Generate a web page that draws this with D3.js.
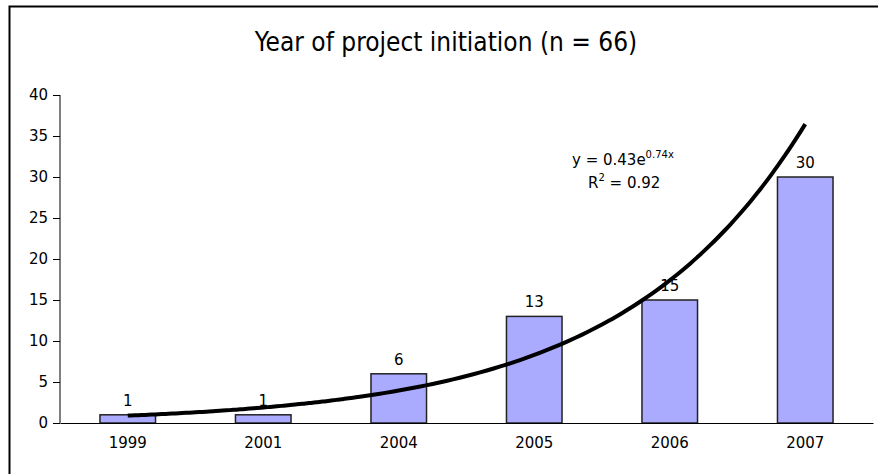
<!DOCTYPE html>
<html>
<head>
<meta charset="UTF-8">
<title>Year of project initiation</title>
<script src="https://cdn.jsdelivr.net/npm/d3@7"></script>
<style>
  body { margin: 0; background: #fff; }
  .axis text { font-family: "DejaVu Sans", Verdana, sans-serif; font-size: 15px; fill: #000; }
  .axis path, .axis line { stroke: #000; }
  .lbl { font-family: "DejaVu Sans", Verdana, sans-serif; font-size: 15px; fill: #000; }
  .title { font-family: "Liberation Sans Narrow", "DejaVu Sans Condensed", sans-serif; font-size: 26px; fill: #000; }
</style>
</head>
<body>
<div id="graphe"></div>
<script>
// données
var years = ["1999", "2001", "2004", "2005", "2006", "2007"];
var counts = [1, 1, 6, 13, 15, 30];
var yTicks = [0, 5, 10, 15, 20, 25, 30, 35, 40];
// courbe de tendance exponentielle y = a * e^(b x)
var trendA = 0.43, trendB = 0.74;

var width = 878, height = 474;
var margin = {top: 95, right: 5, bottom: 51, left: 60};

var svg = d3.select("#graphe").append("svg")
    .attr("width", width)
    .attr("height", height);

// cadre
svg.append("rect")
    .attr("x", 9.5).attr("y", 6.5)
    .attr("width", width + 20).attr("height", height + 20)
    .attr("fill", "none")
    .attr("stroke", "#000")
    .attr("stroke-width", 2);

svg.append("text")
    .attr("class", "title")
    .attr("x", 446)
    .attr("y", 51)
    .attr("text-anchor", "middle")
    .text("Year of project initiation (n = 66)");

var x = d3.scaleBand()
    .domain(years)
    .range([margin.left, width - margin.right])
    .paddingInner(0.59)
    .paddingOuter(0.295);

var y = d3.scaleLinear()
    .domain([0, 40])
    .range([height - margin.bottom, margin.top]);

// axe y
svg.append("g")
    .attr("class", "axis")
    .attr("transform", "translate(" + margin.left + ",0)")
    .call(d3.axisLeft(y).tickValues(yTicks).tickSize(7).tickPadding(5).tickSizeOuter(0))
    .call(function(g) { g.select(".domain").attr("d", "M0," + y(0) + "V" + y(40)); });

// barres
svg.append("g").selectAll("rect")
    .data(counts)
    .enter().append("rect")
    .attr("x", function(d, i) { return x(years[i]); })
    .attr("y", function(d) { return y(d); })
    .attr("width", x.bandwidth())
    .attr("height", function(d) { return y(0) - y(d); })
    .attr("fill", "#aaaaff")
    .attr("stroke", "#222")
    .attr("stroke-width", 1.5);

// étiquettes des valeurs
svg.append("g").selectAll("text")
    .data(counts)
    .enter().append("text")
    .attr("class", "lbl")
    .attr("x", function(d, i) { return x(years[i]) + x.bandwidth() / 2; })
    .attr("y", function(d) { return y(d) - 9; })
    .attr("text-anchor", "middle")
    .text(function(d) { return d; });

// axe x
svg.append("g")
    .attr("class", "axis")
    .attr("transform", "translate(0," + y(0) + ")")
    .call(d3.axisBottom(x).tickSize(0).tickPadding(14).tickSizeOuter(0));

// courbe de tendance
var pts = d3.range(0, 101).map(function(k) {
  var t = 1 + 5 * k / 100;
  return [t, trendA * Math.exp(trendB * t)];
});
var xt = d3.scaleLinear()
    .domain([1, 6])
    .range([x(years[0]) + x.bandwidth() / 2, x(years[5]) + x.bandwidth() / 2]);
svg.append("path")
    .datum(pts)
    .attr("fill", "none")
    .attr("stroke", "#000")
    .attr("stroke-width", 4)
    .attr("d", d3.line()
      .x(function(d) { return xt(d[0]); })
      .y(function(d) { return y(d[1]); })
      .curve(d3.curveMonotoneX));

// équation
var eq = svg.append("text").attr("class", "lbl").attr("x", 572).attr("y", 165);
eq.append("tspan").text("y = 0.43e");
eq.append("tspan").attr("dy", -7).attr("font-size", "10px").text("0.74x");
var r2 = svg.append("text").attr("class", "lbl").attr("x", 588).attr("y", 188);
r2.append("tspan").text("R");
r2.append("tspan").attr("dy", -7).attr("font-size", "10px").text("2");
r2.append("tspan").attr("dy", 7).text(" = 0.92");
</script>
</body>
</html>
